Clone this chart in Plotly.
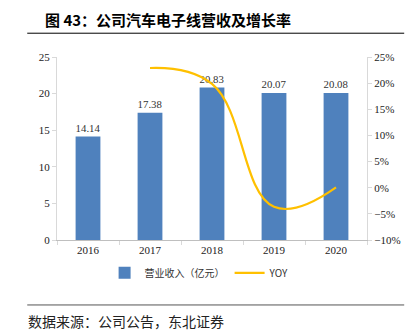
import plotly.graph_objects as go

years = ["2016", "2017", "2018", "2019", "2020"]
revenue = [14.14, 17.38, 20.83, 20.07, 20.08]
yoy_years = ["2017", "2018", "2019", "2020"]
yoy = [22.9, 19.85, -3.65, 0.05]

serif = "Liberation Serif, Times New Roman, serif"
cjk = "Noto Sans CJK SC, sans-serif"

fig = go.Figure()
fig.add_trace(go.Bar(
    x=years, y=revenue, name="营业收入（亿元）",
    marker=dict(color="#4F81BD", line=dict(width=0)),
    width=0.4,
    text=[f"{v:.2f}" for v in revenue], textposition="outside",
    textfont=dict(family=serif, size=11, color="#333333"),
    cliponaxis=False,
))
fig.add_trace(go.Scatter(
    x=yoy_years, y=yoy, name="YOY", yaxis="y2", mode="lines",
    line=dict(color="#FFC000", width=2.2, shape="spline", smoothing=1.2),
))

fig.update_layout(
    width=413, height=334,
    margin=dict(l=57, r=43, t=57, b=94),
    paper_bgcolor="white", plot_bgcolor="white",
    showlegend=True,
    legend=dict(orientation="h", x=0.46, xanchor="center", y=-0.1, yanchor="top",
                font=dict(family=cjk, size=10, color="#333333"),
                itemwidth=30, tracegroupgap=0),
    xaxis=dict(type="category", range=[-0.5, 4.5], showgrid=False,
               showline=True, linecolor="#BFBFBF", linewidth=1,
               ticks="outside", tickson="boundaries", ticklen=4, tickcolor="#D9D9D9",
               tickfont=dict(family=serif, size=11, color="#222222")),
    yaxis=dict(range=[0, 25], dtick=5, showgrid=False, zeroline=False,
               showline=True, linecolor="#D9D9D9", linewidth=1,
               ticks="outside", ticklen=4, tickcolor="#D9D9D9",
               tickfont=dict(family=serif, size=11, color="#222222")),
    yaxis2=dict(range=[-10, 25], dtick=5, overlaying="y", side="right",
                showgrid=False, zeroline=False, ticksuffix="%",
                showline=True, linecolor="#D9D9D9", linewidth=1,
                ticks="outside", ticklen=4, tickcolor="#D9D9D9",
                tickfont=dict(family=serif, size=11, color="#222222")),
    bargap=0.5,
)

fig.add_annotation(text="<b>图 43：公司汽车电子线营收及增长率</b>", xref="paper", yref="paper",
                   x=-0.045, y=1.205, xanchor="left", yanchor="middle", showarrow=False,
                   font=dict(family=cjk, size=15, color="#000000"))
fig.add_annotation(text="数据来源：公司公告，东北证券", xref="paper", yref="paper",
                   x=-0.1, y=-0.44, xanchor="left", yanchor="middle", showarrow=False,
                   font=dict(family=cjk, size=14, color="#222222"))
fig.add_shape(type="line", xref="paper", yref="paper", x0=-0.096, x1=1.12, y0=1.13, y1=1.13,
              line=dict(color="#000000", width=1))
fig.add_shape(type="line", xref="paper", yref="paper", x0=-0.096, x1=1.12, y0=-0.355, y1=-0.355,
              line=dict(color="#555555", width=1))

fig.write_html("out.html")
